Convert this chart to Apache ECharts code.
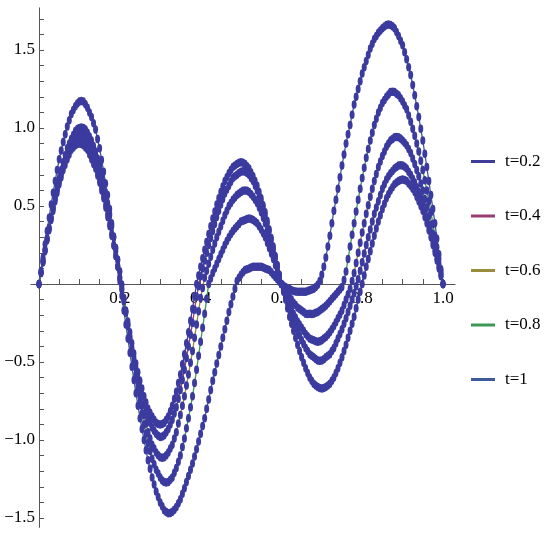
<!DOCTYPE html>
<html><head><meta charset="utf-8">
<script src="https://cdn.jsdelivr.net/npm/echarts/dist/echarts.min.js"></script>
<style>html,body{margin:0;padding:0;background:#fff}#c{width:550px;height:539px}</style>
</head><body><div id="c"></div>
<script>
// sample positions (x), step 0.005
const xs = [0,0.005,0.01,0.015,0.02,0.025,0.03,0.035,0.04,0.045,0.05,0.055,0.06,0.065,0.07,0.075,0.08,0.085,0.09,0.095,0.1,
0.105,0.11,0.115,0.12,0.125,0.13,0.135,0.14,0.145,0.15,0.155,0.16,0.165,0.17,0.175,0.18,0.185,0.19,0.195,0.2,
0.205,0.21,0.215,0.22,0.225,0.23,0.235,0.24,0.245,0.25,0.255,0.26,0.265,0.27,0.275,0.28,0.285,0.29,0.295,0.3,
0.305,0.31,0.315,0.32,0.325,0.33,0.335,0.34,0.345,0.35,0.355,0.36,0.365,0.37,0.375,0.38,0.385,0.39,0.395,0.4,
0.405,0.41,0.415,0.42,0.425,0.43,0.435,0.44,0.445,0.45,0.455,0.46,0.465,0.47,0.475,0.48,0.485,0.49,0.495,0.5,
0.505,0.51,0.515,0.52,0.525,0.53,0.535,0.54,0.545,0.55,0.555,0.56,0.565,0.57,0.575,0.58,0.585,0.59,0.595,0.6,
0.605,0.61,0.615,0.62,0.625,0.63,0.635,0.64,0.645,0.65,0.655,0.66,0.665,0.67,0.675,0.68,0.685,0.69,0.695,0.7,
0.705,0.71,0.715,0.72,0.725,0.73,0.735,0.74,0.745,0.75,0.755,0.76,0.765,0.77,0.775,0.78,0.785,0.79,0.795,0.8,
0.805,0.81,0.815,0.82,0.825,0.83,0.835,0.84,0.845,0.85,0.855,0.86,0.865,0.87,0.875,0.88,0.885,0.89,0.895,0.9,
0.905,0.91,0.915,0.92,0.925,0.93,0.935,0.94,0.945,0.95,0.955,0.96,0.965,0.97,0.975,0.98,0.985,0.99,0.995,1];

const seriesNames = ['t=0.2','t=0.4','t=0.6','t=0.8','t=1'];

const u02 = [0,0.07,0.14,0.21,0.28,0.345,0.41,0.47,0.53,0.585,0.64,0.685,0.73,0.765,0.80,0.83,0.86,0.875,0.89,0.897,0.90,
0.897,0.89,0.875,0.86,0.83,0.80,0.77,0.74,0.695,0.65,0.60,0.55,0.49,0.43,0.37,0.31,0.245,0.18,0.11,0.04,
-0.03,-0.10,-0.17,-0.24,-0.31,-0.38,-0.445,-0.51,-0.565,-0.62,-0.67,-0.72,-0.76,-0.80,-0.825,-0.85,-0.87,-0.89,-0.897,-0.90,
-0.897,-0.89,-0.87,-0.85,-0.815,-0.78,-0.735,-0.69,-0.635,-0.58,-0.515,-0.45,-0.38,-0.31,-0.235,-0.16,-0.08,0,0.055,0.11,
0.165,0.22,0.27,0.32,0.37,0.42,0.465,0.51,0.55,0.59,0.625,0.66,0.685,0.71,0.73,0.75,0.76,0.77,0.777,0.78,
0.777,0.77,0.755,0.74,0.715,0.69,0.66,0.63,0.59,0.55,0.505,0.46,0.405,0.35,0.295,0.24,0.18,0.12,0.06,0,
-0.05,-0.10,-0.155,-0.21,-0.255,-0.30,-0.345,-0.39,-0.43,-0.47,-0.505,-0.54,-0.57,-0.60,-0.62,-0.64,-0.65,-0.66,-0.667,-0.67,
-0.667,-0.66,-0.65,-0.64,-0.62,-0.60,-0.57,-0.54,-0.505,-0.47,-0.43,-0.39,-0.345,-0.30,-0.255,-0.21,-0.155,-0.10,-0.05,0,
0.055,0.11,0.16,0.21,0.26,0.31,0.355,0.40,0.44,0.48,0.515,0.55,0.575,0.60,0.62,0.64,0.65,0.66,0.667,0.67,
0.667,0.66,0.645,0.63,0.61,0.59,0.56,0.53,0.50,0.47,0.43,0.39,0.345,0.30,0.25,0.20,0.15,0.10,0.05,0];

const u04 = [0,0.075,0.15,0.22,0.29,0.355,0.42,0.485,0.55,0.605,0.66,0.705,0.75,0.79,0.83,0.855,0.88,0.90,0.92,0.927,0.93,
0.927,0.92,0.905,0.89,0.86,0.83,0.795,0.76,0.715,0.67,0.62,0.57,0.51,0.45,0.385,0.32,0.25,0.18,0.11,0.04,
-0.035,-0.11,-0.185,-0.26,-0.335,-0.41,-0.475,-0.54,-0.605,-0.67,-0.72,-0.77,-0.815,-0.86,-0.89,-0.92,-0.94,-0.96,-0.972,-0.98,
-0.977,-0.97,-0.95,-0.93,-0.90,-0.87,-0.83,-0.79,-0.735,-0.68,-0.615,-0.55,-0.475,-0.40,-0.325,-0.25,-0.165,-0.08,-0.015,0.05,
0.10,0.15,0.20,0.25,0.295,0.34,0.385,0.43,0.47,0.51,0.545,0.58,0.605,0.63,0.655,0.68,0.69,0.70,0.712,0.72,
0.722,0.72,0.712,0.70,0.68,0.66,0.63,0.60,0.565,0.53,0.485,0.44,0.39,0.34,0.285,0.23,0.175,0.12,0.06,0,
-0.04,-0.08,-0.12,-0.16,-0.195,-0.23,-0.265,-0.30,-0.33,-0.36,-0.385,-0.41,-0.43,-0.45,-0.46,-0.47,-0.48,-0.49,-0.492,-0.49,
-0.482,-0.47,-0.46,-0.45,-0.43,-0.41,-0.38,-0.35,-0.32,-0.29,-0.255,-0.22,-0.18,-0.14,-0.10,-0.06,-0.015,0.03,0.085,0.14,
0.195,0.25,0.30,0.35,0.40,0.45,0.49,0.53,0.57,0.61,0.64,0.67,0.69,0.71,0.725,0.74,0.75,0.76,0.762,0.76,
0.752,0.74,0.72,0.70,0.675,0.65,0.62,0.59,0.555,0.52,0.47,0.42,0.375,0.33,0.275,0.22,0.165,0.11,0.055,0];

const u06 = [0,0.07,0.14,0.215,0.29,0.355,0.42,0.485,0.55,0.605,0.66,0.71,0.76,0.80,0.84,0.87,0.90,0.925,0.95,0.962,0.97,
0.975,0.97,0.957,0.94,0.92,0.90,0.865,0.83,0.785,0.74,0.685,0.63,0.57,0.51,0.44,0.37,0.30,0.23,0.155,0.08,
-0.005,-0.09,-0.175,-0.26,-0.345,-0.43,-0.505,-0.58,-0.65,-0.72,-0.78,-0.84,-0.895,-0.95,-0.99,-1.03,-1.055,-1.08,-1.097,-1.11,
-1.113,-1.11,-1.097,-1.08,-1.055,-1.03,-0.99,-0.95,-0.895,-0.84,-0.78,-0.72,-0.65,-0.58,-0.505,-0.43,-0.345,-0.26,-0.175,-0.09,
-0.025,0.04,0.085,0.13,0.175,0.22,0.26,0.30,0.335,0.37,0.405,0.44,0.47,0.50,0.52,0.54,0.555,0.57,0.58,0.59,
0.597,0.60,0.597,0.59,0.575,0.56,0.54,0.52,0.49,0.46,0.425,0.39,0.345,0.30,0.255,0.21,0.155,0.10,0.05,0,
-0.03,-0.06,-0.095,-0.13,-0.16,-0.19,-0.215,-0.24,-0.26,-0.28,-0.30,-0.32,-0.335,-0.35,-0.355,-0.36,-0.367,-0.37,-0.367,-0.36,
-0.35,-0.34,-0.325,-0.31,-0.29,-0.27,-0.245,-0.22,-0.195,-0.17,-0.135,-0.10,-0.065,-0.03,0.02,0.07,0.135,0.20,0.265,0.33,
0.39,0.45,0.505,0.56,0.61,0.66,0.705,0.75,0.785,0.82,0.85,0.88,0.90,0.92,0.93,0.94,0.943,0.94,0.933,0.92,
0.905,0.89,0.865,0.84,0.805,0.77,0.73,0.69,0.645,0.60,0.545,0.49,0.435,0.38,0.32,0.26,0.195,0.13,0.065,0];

const u08 = [0,0.075,0.15,0.22,0.29,0.36,0.43,0.50,0.57,0.625,0.68,0.73,0.78,0.825,0.87,0.90,0.93,0.955,0.98,0.993,1.00,
1.003,1.00,0.99,0.97,0.945,0.92,0.885,0.85,0.805,0.76,0.705,0.65,0.585,0.52,0.45,0.38,0.305,0.23,0.155,0.08,
-0.005,-0.09,-0.18,-0.27,-0.355,-0.44,-0.525,-0.61,-0.685,-0.76,-0.83,-0.90,-0.96,-1.02,-1.07,-1.12,-1.155,-1.19,-1.215,-1.24,
-1.26,-1.27,-1.273,-1.27,-1.255,-1.24,-1.21,-1.18,-1.14,-1.10,-1.045,-0.99,-0.925,-0.86,-0.79,-0.72,-0.635,-0.55,-0.46,-0.37,
-0.28,-0.19,-0.095,0,0.035,0.07,0.10,0.13,0.16,0.19,0.22,0.25,0.275,0.30,0.32,0.34,0.355,0.37,0.385,0.40,
0.405,0.41,0.417,0.42,0.417,0.41,0.40,0.39,0.37,0.35,0.325,0.30,0.265,0.23,0.195,0.16,0.12,0.08,0.04,0,
-0.02,-0.04,-0.06,-0.08,-0.10,-0.12,-0.135,-0.15,-0.16,-0.17,-0.18,-0.19,-0.192,-0.19,-0.192,-0.19,-0.185,-0.18,-0.17,-0.16,
-0.15,-0.14,-0.125,-0.11,-0.095,-0.08,-0.065,-0.05,-0.035,-0.02,0.025,0.08,0.16,0.24,0.315,0.39,0.465,0.54,0.61,0.68,
0.745,0.81,0.865,0.92,0.97,1.02,1.06,1.10,1.13,1.16,1.18,1.20,1.215,1.23,1.233,1.23,1.22,1.21,1.19,1.17,
1.145,1.12,1.08,1.04,0.995,0.95,0.90,0.85,0.79,0.73,0.665,0.60,0.53,0.46,0.385,0.31,0.235,0.16,0.08,0];

const u10 = [0,0.085,0.17,0.255,0.34,0.425,0.51,0.585,0.66,0.73,0.80,0.855,0.91,0.96,1.01,1.05,1.09,1.115,1.14,1.157,1.17,
1.173,1.17,1.152,1.13,1.10,1.07,1.03,0.99,0.93,0.87,0.795,0.72,0.645,0.57,0.48,0.39,0.30,0.21,0.115,0.02,
-0.075,-0.17,-0.26,-0.35,-0.44,-0.53,-0.615,-0.70,-0.78,-0.86,-0.93,-1.00,-1.065,-1.13,-1.185,-1.24,-1.285,-1.33,-1.365,-1.40,
-1.425,-1.45,-1.462,-1.47,-1.468,-1.46,-1.447,-1.43,-1.405,-1.38,-1.345,-1.31,-1.27,-1.23,-1.19,-1.15,-1.105,-1.06,-1.01,-0.96,
-0.91,-0.86,-0.80,-0.74,-0.68,-0.62,-0.565,-0.51,-0.455,-0.40,-0.345,-0.29,-0.235,-0.18,-0.13,-0.08,-0.03,0.02,0.04,0.06,
0.075,0.09,0.095,0.10,0.105,0.11,0.11,0.11,0.11,0.11,0.105,0.10,0.095,0.09,0.075,0.06,0.045,0.03,0.015,0,
-0.01,-0.02,-0.025,-0.03,-0.04,-0.045,-0.048,-0.05,-0.05,-0.05,-0.05,-0.05,-0.045,-0.04,-0.035,-0.03,-0.02,-0.005,0.02,0.06,
0.11,0.17,0.24,0.31,0.39,0.47,0.54,0.61,0.685,0.76,0.83,0.90,0.96,1.02,1.085,1.15,1.20,1.25,1.30,1.35,
1.39,1.43,1.47,1.51,1.54,1.57,1.59,1.61,1.625,1.64,1.65,1.66,1.663,1.66,1.653,1.64,1.615,1.59,1.56,1.53,
1.485,1.44,1.39,1.34,1.275,1.21,1.14,1.07,0.995,0.92,0.835,0.75,0.66,0.57,0.48,0.39,0.29,0.19,0.095,0];

const curves = [u02, u04, u06, u08, u10];
const lineColors = ['#3d3d99', '#993d71', '#998c3d', '#3d9956', '#3d5b99'];
const dotColor = '#3b3b9f';

const chart = echarts.init(document.getElementById('c'), null, {renderer: 'canvas'});

const FONT = 'Liberation Serif';
const AXIS_COLOR = '#555';

const series = [];
curves.forEach((vals, i) => {
  series.push({
    type: 'line', name: seriesNames[i], xAxisIndex: 1, yAxisIndex: 1,
    data: xs.map((x, j) => [x, vals[j]]),
    showSymbol: false, symbol: 'none', clip: false, silent: true,
    lineStyle: {color: lineColors[i], width: 1.3},
    itemStyle: {color: lineColors[i]},
    z: 2
  });
});
curves.forEach((vals, i) => {
  series.push({
    type: 'scatter', name: 'pts' + i, xAxisIndex: 1, yAxisIndex: 1,
    data: xs.map((x, j) => [x, vals[j]]),
    symbol: 'circle', symbolSize: [5, 8.5], clip: false, silent: true,
    itemStyle: {color: dotColor, opacity: 1},
    z: 3
  });
});

const fmtY = v => {
  if (Math.abs(v) < 1e-6) return '';
  if (Math.abs(v * 2 - Math.round(v * 2)) > 1e-6) return '';
  return (v < 0 ? '\u2212' : '') + Math.abs(v).toFixed(1);
};
const fmtX = v => {
  if (v < 1e-6) return '';
  if (Math.abs(v * 5 - Math.round(v * 5)) > 1e-6) return '';
  return v.toFixed(1);
};

chart.setOption({
  animation: false,
  backgroundColor: '#ffffff',
  textStyle: {fontFamily: FONT},
  grid: [
    {left: 30.92, top: 7.88, width: 424.2, height: 519.48},
    {left: 39, top: 18.8, width: 404, height: 499.2}
  ],
  xAxis: [
    {type: 'value', gridIndex: 0, min: -0.02, max: 1.03,
     axisLine: {show: true, onZero: true, lineStyle: {color: AXIS_COLOR, width: 1}},
     axisTick: {show: false}, axisLabel: {show: false}, splitLine: {show: false}},
    {type: 'value', gridIndex: 1, min: 0, max: 1, interval: 0.05,
     position: 'bottom', offset: -234,
     axisLine: {show: false, onZero: false},
     axisTick: {show: true, inside: true, length: 5, lineStyle: {color: AXIS_COLOR}},
     axisLabel: {show: true, formatter: fmtX, margin: 6, color: '#000', fontFamily: FONT, fontSize: 17},
     splitLine: {show: false}}
  ],
  yAxis: [
    {type: 'value', gridIndex: 0, min: -1.56, max: 1.77,
     axisLine: {show: true, onZero: true, lineStyle: {color: AXIS_COLOR, width: 1}},
     axisTick: {show: false}, axisLabel: {show: false}, splitLine: {show: false}},
    {type: 'value', gridIndex: 1, min: -1.5, max: 1.7, interval: 0.1,
     position: 'left',
     axisLine: {show: false, onZero: false},
     axisTick: {show: true, inside: true, length: 5, lineStyle: {color: AXIS_COLOR}},
     axisLabel: {show: true, formatter: fmtY, margin: 4, color: '#000', fontFamily: FONT, fontSize: 17},
     splitLine: {show: false}}
  ],
  legend: {
    data: seriesNames.map(n => ({name: n, icon: 'rect'})),
    orient: 'vertical', left: 466, top: 148,
    itemWidth: 24, itemHeight: 3, itemGap: 37.5,
    selectedMode: false,
    textStyle: {fontFamily: FONT, fontSize: 17, color: '#000', padding: [0, 0, 0, 5]}
  },
  series: series
});
</script>
</body></html>
